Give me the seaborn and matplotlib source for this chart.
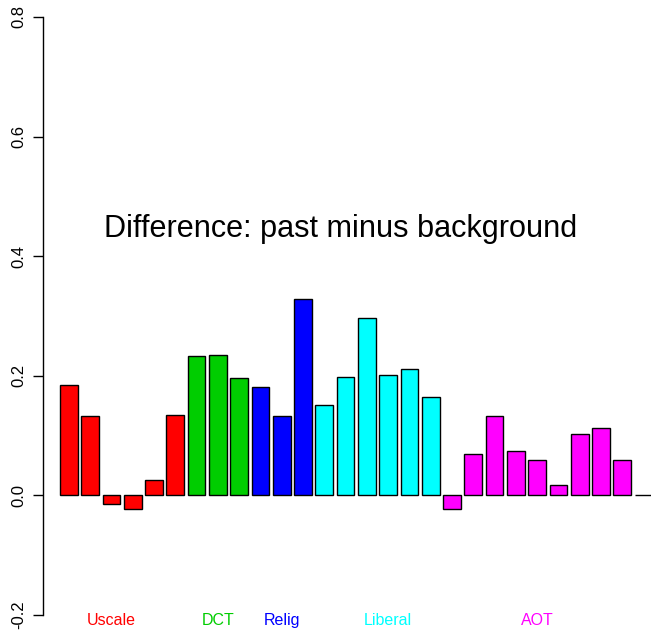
import numpy as np
import pandas as pd
import matplotlib
matplotlib.use("Agg")
import matplotlib.pyplot as plt
import seaborn as sns

# values
uscale = [0.185, 0.133, -0.015, -0.022, 0.026, 0.135]
dct = [0.233, 0.235, 0.196]
relig = [0.181, 0.132, 0.328]
liberal = [0.151, 0.198, 0.297, 0.201, 0.211, 0.164]
aot = [-0.022, 0.069, 0.133, 0.075, 0.060, 0.017, 0.102, 0.112, 0.060, 0.0]

groups = ["Uscale", "DCT", "Relig", "Liberal", "AOT"]
group_colors = ["#FF0000", "#00CD00", "#0000FF", "#00FFFF", "#FF00FF"]
# bar index under each group label
label_at = [2, 7, 10, 15, 22]

values = uscale + dct + relig + liberal + aot
group_of = (["Uscale"] * len(uscale) + ["DCT"] * len(dct) + ["Relig"] * len(relig)
            + ["Liberal"] * len(liberal) + ["AOT"] * len(aot))
df = pd.DataFrame({"item": [str(i) for i in range(len(values))],
                   "diff": values, "group": group_of})

sns.set_style("white")
plt.rcParams["font.family"] = ["Liberation Sans", "DejaVu Sans"]
plt.rcParams["text.color"] = "black"
plt.rcParams["ytick.color"] = "black"

fig = plt.figure(figsize=(6.51, 6.30), dpi=100)
ax = fig.add_axes([43 / 651, 15 / 630, 608 / 651, 598 / 630])

sns.barplot(data=df, x="item", y="diff", hue="group", order=df["item"],
            hue_order=groups, palette=group_colors, dodge=False, width=0.833,
            saturation=1, edgecolor="black", linewidth=1.0, legend=False, ax=ax)

ax.set_xlim(-1.217, 27.35)
ax.set_ylim(-0.2, 0.8)
ax.set_xlabel("")
ax.set_ylabel("")
ax.set_xticks([])
ax.set_yticks([-0.2, 0.0, 0.2, 0.4, 0.6, 0.8])
ax.set_yticklabels(["-0.2", "0.0", "0.2", "0.4", "0.6", "0.8"],
                   rotation=90, va="center", fontsize=12, color="black")
ax.tick_params(axis="y", left=True, length=7, width=1, color="black", pad=5)
for s in ["top", "right", "bottom"]:
    ax.spines[s].set_visible(False)
ax.spines["left"].set_color("black")
ax.spines["left"].set_linewidth(1)

ax.text(12.77, 0.445, "Difference: past minus background", ha="center",
        va="center", fontsize=22.1, color="black")

for g, c, i in zip(groups, group_colors, label_at):
    ax.text(i, -0.21, g, color=c, ha="center", va="center", fontsize=11.5,
            clip_on=False)

fig.savefig("out.png", dpi=100)
